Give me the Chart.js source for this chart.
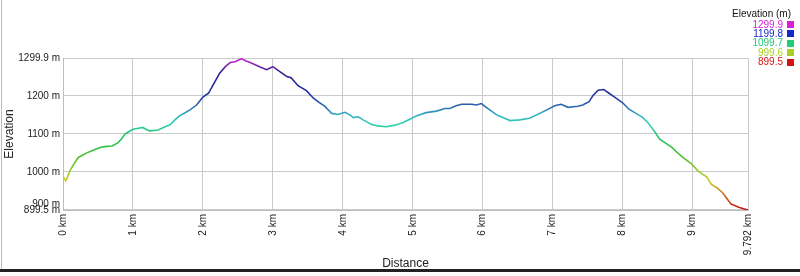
<!DOCTYPE html>
<html>
<head>
<meta charset="utf-8">
<script src="https://cdn.jsdelivr.net/npm/chart.js@4/dist/chart.umd.min.js"></script>
<style>
  html, body { margin: 0; padding: 0; background: #fff; }
  #wrap { position: relative; width: 800px; height: 276px; overflow: hidden; }
  #c { position: absolute; left: 0; top: 0; }
  #frameL { position: absolute; left: 1px; top: 0; width: 1px; height: 270px; background: #bdbdbd; }
  #frameB { position: absolute; left: 0; top: 269px; width: 800px; height: 3px; background: #222; }
  .lg { position: absolute; font: 10px "Liberation Sans", Arial, sans-serif; white-space: nowrap; line-height: 10px; }
  .sq { position: absolute; width: 7px; height: 7px; }
</style>
</head>
<body>
<div id="wrap">
  <canvas id="c" width="800" height="276"></canvas>
  <div id="frameL"></div>
  <div id="frameB"></div>
</div>
<script>
// ---- data ----
const distanceKm = [0.00,0.04,0.10,0.16,0.22,0.34,0.45,0.53,0.62,0.70,0.79,0.84,0.89,0.95,1.00,1.08,1.14,1.20,1.24,1.30,1.36,1.45,1.53,1.60,1.67,1.74,1.82,1.91,2.00,2.08,2.16,2.24,2.32,2.39,2.46,2.55,2.62,2.70,2.81,2.91,3.00,3.10,3.20,3.26,3.36,3.48,3.58,3.66,3.74,3.84,3.93,4.03,4.10,4.15,4.22,4.29,4.41,4.50,4.62,4.75,4.86,4.95,5.05,5.19,5.34,5.46,5.53,5.62,5.70,5.84,5.91,5.98,6.05,6.20,6.39,6.53,6.67,6.86,7.03,7.12,7.22,7.36,7.43,7.52,7.58,7.65,7.73,7.79,7.89,8.00,8.09,8.19,8.28,8.36,8.45,8.53,8.62,8.70,8.78,8.86,8.98,9.08,9.14,9.20,9.27,9.35,9.43,9.49,9.55,9.67,9.792];
const elevationM = [988,976,1003,1022,1038,1050,1058,1064,1067,1068,1077,1088,1100,1107,1112,1115,1117,1111,1108,1109,1110,1118,1124,1137,1148,1155,1164,1176,1197,1207,1234,1260,1277,1288,1290,1298,1292,1286,1277,1269,1277,1264,1251,1248,1227,1214,1194,1183,1173,1154,1151,1157,1150,1143,1145,1137,1125,1121,1119,1123,1130,1138,1147,1156,1160,1167,1167,1174,1178,1178,1176,1180,1170,1150,1135,1137,1141,1158,1174,1178,1170,1173,1176,1185,1202,1215,1217,1209,1196,1182,1165,1154,1144,1130,1108,1086,1075,1065,1051,1038,1022,1002,994,987,967,958,945,930,915,906,899.5];
const xTickValues = [0,1,2,3,4,5,6,7,8,9,9.792];
const yTickValues = [899.5,900,1000,1100,1200,1299.9];
const legendValues = ['1299.9','1199.8','1099.7','999.6','899.5'];
const legendColors = ['#d81ed8','#1428c8','#22cc77','#a8d020','#d41414'];
const legendTitle = 'Elevation (m)';
const yTitle = 'Elevation';
const xTitle = 'Distance';

const yMin = 899.5, yMax = 1299.9;

// legend (HTML text)
(function(){
  const wrap = document.getElementById('wrap');
  const t = document.createElement('div');
  t.className = 'lg';
  t.textContent = legendTitle;
  t.style.right = '9px'; t.style.top = '9px'; t.style.color = '#111';
  wrap.appendChild(t);
  legendValues.forEach((v,i) => {
    const cy = 24.5 + i*9.4;
    const d = document.createElement('div');
    d.className = 'lg';
    d.textContent = v;
    d.style.right = (800-783) + 'px';
    d.style.top = (cy-5) + 'px';
    d.style.color = legendColors[i];
    wrap.appendChild(d);
    const s = document.createElement('div');
    s.className = 'sq';
    s.style.left = '787px';
    s.style.top = (cy-3.5) + 'px';
    s.style.background = legendColors[i];
    wrap.appendChild(s);
  });
})();

function lineGradient(ctx) {
  const chart = ctx.chart;
  const area = chart.chartArea;
  if (!area) return '#2233aa';
  const g = chart.ctx.createLinearGradient(0, area.bottom, 0, area.top);
  const f = v => (v - yMin) / (yMax - yMin);
  g.addColorStop(0, '#c81010');
  g.addColorStop(f(935), '#cc6020');
  g.addColorStop(f(975), '#cccc22');
  g.addColorStop(f(1000), '#9ccc22');
  g.addColorStop(f(1050), '#3cbc34');
  g.addColorStop(f(1100), '#22c470');
  g.addColorStop(f(1125), '#34d0b0');
  g.addColorStop(f(1150), '#30b0c4');
  g.addColorStop(f(1165), '#2f80b8');
  g.addColorStop(f(1180), '#2a58a8');
  g.addColorStop(f(1199.8), '#2034a0');
  g.addColorStop(f(1260), '#2a2090');
  g.addColorStop(f(1280), '#7a28b0');
  g.addColorStop(1, '#d822d8');
  return g;
}

const fontFam = '"Liberation Sans", Arial, sans-serif';

new Chart(document.getElementById('c'), {
  type: 'line',
  data: {
    datasets: [{
      data: distanceKm.map((d,i) => ({x: d, y: elevationM[i]})),
      borderColor: lineGradient,
      borderWidth: 1.6,
      pointRadius: 0,
      tension: 0,
      fill: false
    }]
  },
  options: {
    responsive: false,
    animation: false,
    devicePixelRatio: 1,
    layout: { padding: { left: 0, top: 58, right: 52, bottom: 0 } },
    plugins: { legend: { display: false }, tooltip: { enabled: false } },
    scales: {
      x: {
        type: 'linear',
        min: 0, max: 9.792,
        afterBuildTicks: s => { s.ticks = xTickValues.map(v => ({value: v})); },
        afterFit: s => { s.height = 66; },
        ticks: {
          autoSkip: false, minRotation: 90, maxRotation: 90, padding: 4,
          color: '#222', font: { family: fontFam, size: 10 },
          callback: v => v + ' km'
        },
        grid: { color: '#cacaca', lineWidth: 1, drawTicks: false },
        border: { color: '#bdbdbd' },
        title: { display: true, text: xTitle, color: '#222', font: { family: fontFam, size: 12 }, padding: { top: 0, bottom: 5 } }
      },
      y: {
        type: 'linear',
        min: yMin, max: yMax,
        afterBuildTicks: s => { s.ticks = yTickValues.map(v => ({value: v})); },
        afterFit: s => { s.width = 63; },
        ticks: {
          autoSkip: false, padding: 3,
          color: '#222', font: { family: fontFam, size: 10 },
          callback: v => v === 900 ? ['900 m', ''] : v + ' m'
        },
        grid: { color: '#cacaca', lineWidth: 1, drawTicks: false },
        border: { color: '#bdbdbd' },
        title: { display: true, text: yTitle, color: '#222', font: { family: fontFam, size: 12 }, padding: { top: 2, bottom: 0 } }
      }
    }
  }
});
</script>
</body>
</html>
